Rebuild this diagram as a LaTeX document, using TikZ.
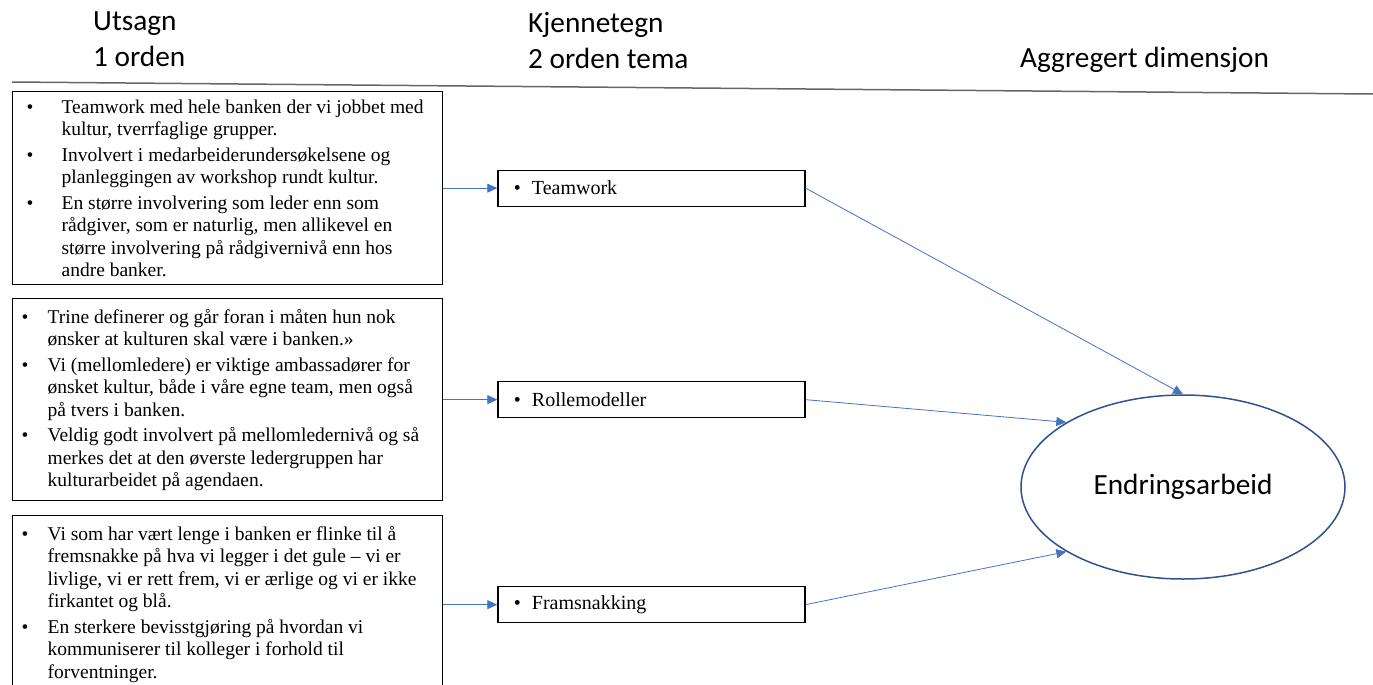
\documentclass[tikz,border=0pt]{standalone}
\usepackage{fontspec}
\setmainfont{Liberation Serif}
\newfontfamily\calibri{Carlito}
\usepackage{xcolor}
\usepackage{tikz}
\usetikzlibrary{shapes}
\usetikzlibrary{positioning, arrows.meta}
\definecolor{pilblaa}{HTML}{4472C4}
\definecolor{ellblaa}{HTML}{2F528F}
% boks med kulepunkter: hoyde, luft over, venstre marg, kolonne for kulepunkt, linjer
\newcommand{\punkter}[5]{%
	\parbox[c][#1][t]{430pt}{\vspace*{#2}\hspace*{#3}\begin{tabular}[t]{@{}p{#4}@{}l@{}}#5\end{tabular}}}

\begin{document}
\begin{tikzpicture}[x=1pt, y=-1pt,
		utsagn/.style={draw, line width=1.3pt, anchor=north west, inner sep=0pt,
			font=\fontsize{19.5}{22.5}\selectfont},
		tema/.style={draw, line width=1.3pt, minimum height=36pt, inner xsep=16pt,
			inner ysep=0pt, text width=275pt, align=left, font=\fontsize{20}{22}\selectfont},
		maal/.style={ellipse, draw=ellblaa, line width=1.5pt, minimum width=324pt,
			minimum height=184pt, inner sep=0pt, font=\calibri\fontsize{29.3}{35}\selectfont},
		overskrift/.style={inner sep=0pt, align=left, font=\calibri\fontsize{29.3}{36}\selectfont},
		pil/.style={draw=pilblaa, line width=0.8pt, -{Triangle[length=10pt, width=9pt]}}
		]
		\useasboundingbox (0,0) rectangle (1373,685);
		
		% overskrifter
		\node[overskrift, anchor=north west] (h1) at (93,12) {Utsagn\\1 orden};
		\node[overskrift, anchor=north west] (h2) at (528,12) {Kjennetegn\\2 orden tema};
		\node[overskrift, anchor=base west] (h3) at (1020,67) {Aggregert dimensjon};
		\draw[black!60, line width=1.5pt] (12,82) -- (1373,94);
		
		% utsagn, 1 orden
		\node[utsagn] (u1) at (12,91) {\punkter{193pt}{6pt}{14pt}{35pt}{%
				\textbullet & Teamwork med hele banken der vi jobbet med\\
				& kultur, tverrfaglige grupper.\\[3pt]
				\textbullet & Involvert i medarbeiderundersøkelsene og\\
				& planleggingen av workshop rundt kultur.\\[3pt]
				\textbullet & En større involvering som leder enn som\\
				& rådgiver, som er naturlig, men allikevel en\\
				& større involvering på rådgivernivå enn hos\\
				& andre banker.}};
		\node[utsagn] (u2) at (12,298) {\punkter{202pt}{9pt}{9pt}{26pt}{%
				\textbullet & Trine definerer og går foran i måten hun nok\\
				& ønsker at kulturen skal være i banken.»\\[3pt]
				\textbullet & Vi (mellomledere) er viktige ambassadører for\\
				& ønsket kultur, både i våre egne team, men også\\
				& på tvers i banken.\\[3pt]
				\textbullet & Veldig godt involvert på mellomledernivå og så\\
				& merkes det at den øverste ledergruppen har\\
				& kulturarbeidet på agendaen.}};
		\node[utsagn] (u3) at (12,515) {\punkter{178pt}{9pt}{9pt}{26pt}{%
				\textbullet & Vi som har vært lenge i banken er flinke til å\\
				& fremsnakke på hva vi legger i det gule – vi er\\
				& livlige, vi er rett frem, vi er ærlige og vi er ikke\\
				& firkantet og blå.\\[3pt]
				\textbullet & En sterkere bevisstgjøring på hvordan vi\\
				& kommuniserer til kolleger i forhold til\\
				& forventninger.}};
		
		% kjennetegn, 2 orden tema
		\node[tema, right=54pt of u1] (t1) {\makebox[18pt][l]{\textbullet}Teamwork};
		\node[tema, right=54pt of u2] (t2) {\makebox[18pt][l]{\textbullet}Rollemodeller};
		\node[tema, right=54pt of u3] (t3) {\makebox[18pt][l]{\textbullet}Framsnakking};
		
		% aggregert dimensjon
		\node[maal] (e) at (1183,487) {Endringsarbeid};
		
		\foreach \i in {1,2,3}
		\draw[pil] (u\i.east) -- (t\i.west);
		\draw[pil] (t1.east) -- (e.north);
		\draw[pil] (t2.east) -- (e.151);
		\draw[pil] (t3.east) -- (e.209);
\end{tikzpicture}
\end{document}
